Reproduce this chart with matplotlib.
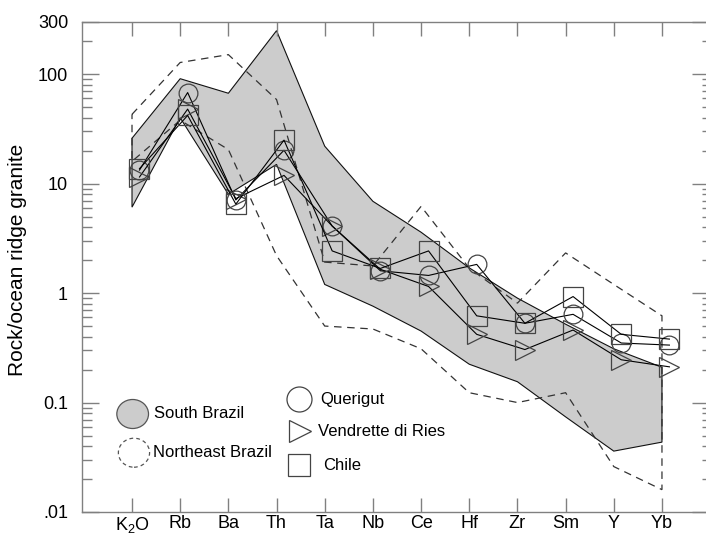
import numpy as np
import matplotlib
matplotlib.use("Agg")
import matplotlib.pyplot as plt
from matplotlib.patches import Ellipse
from matplotlib.ticker import LogLocator, NullFormatter, FixedLocator, FixedFormatter

plt.rcParams['font.family'] = ['Liberation Sans', 'DejaVu Sans']
plt.rcParams['mathtext.default'] = 'regular'

# ---------------- data ----------------
categories = ['K$_2$O', 'Rb', 'Ba', 'Th', 'Ta', 'Nb', 'Ce', 'Hf', 'Zr', 'Sm', 'Y', 'Yb']

south_brazil_upper = [26, 91, 67, 250, 22, 6.9, 3.6, 1.7, 0.9, 0.52, 0.31, 0.21]
south_brazil_lower = [6.1, 40, 8.0, 15, 1.2, 0.76, 0.45, 0.224, 0.155, 0.074, 0.036, 0.0435]

northeast_upper = [43, 128, 151, 58.7, 1.92, 1.77, 6.2, 1.69, 0.81, 2.33, 1.2, 0.62]
northeast_lower = [16, 38, 20.5, 2.2, 0.5, 0.47, 0.31, 0.123, 0.1, 0.123, 0.026, 0.016]

querigut  = [13.3, 68, 7.1, 20.2, 4.1, 1.6, 1.45, 1.83, 0.53, 0.64, 0.35, 0.335]
vendrette = [11.5, 48, 7.3, 11.9, 4.1, 1.65, 1.15, 0.42, 0.305, 0.46, 0.246, 0.212]
chile     = [13.7, 42, 6.5, 25, 2.43, 1.68, 2.43, 0.62, 0.53, 0.93, 0.42, 0.38]

ytick_vals = [0.01, 0.1, 1, 10, 100, 300]
ytick_labels = ['.01', '0.1', '1', '10', '100', '300']

# ---------------- figure ----------------
fig = plt.figure(figsize=(7.06, 5.36), dpi=100)
ax = fig.add_axes([82 / 706, 24 / 536, 624 / 706, 490 / 536])

x = np.arange(len(categories))
sym_x = x + 0.155

# South Brazil field
ax.fill(np.r_[x, x[::-1]], np.r_[south_brazil_upper, south_brazil_lower[::-1]],
        facecolor='#cccccc', edgecolor='#111111', lw=0.8, zorder=1)
# Northeast Brazil field
ax.fill(np.r_[x, x[::-1]], np.r_[northeast_upper, northeast_lower[::-1]],
        fill=False, edgecolor='#333333', lw=0.9, ls=(0, (6, 4.5)), zorder=2)

mec = '#444444'
ax.plot(sym_x, querigut, color='black', lw=0.8, marker='o', ms=13.5,
        mfc='none', mec=mec, mew=0.9, zorder=3)
ax.plot(sym_x, vendrette, color='black', lw=0.8, marker='>', ms=15,
        mfc='none', mec=mec, mew=0.9, zorder=3)
ax.plot(sym_x, chile, color='black', lw=0.8, marker='s', ms=15,
        mfc='none', mec=mec, mew=0.9, zorder=3)

ax.set_yscale('log')
ax.set_ylim(0.01, 300)
ax.set_xlim(-1.038, 11.914)

ax.yaxis.set_major_locator(FixedLocator(ytick_vals))
ax.yaxis.set_major_formatter(FixedFormatter(ytick_labels))
ax.yaxis.set_minor_locator(LogLocator(base=10, subs=np.arange(2, 10), numticks=20))
ax.yaxis.set_minor_formatter(NullFormatter())

ax.set_xticks(x)
ax.set_xticklabels(categories)

tick_col = '#808080'
ax.tick_params(axis='y', which='major', direction='in', length=12, width=1,
               color=tick_col, labelsize=13, pad=10, left=True, right=False)
ax.tick_params(axis='y', which='minor', direction='in', length=7, width=1,
               color=tick_col, left=True, right=False)
ax.tick_params(axis='x', which='major', direction='in', length=10, width=1,
               color=tick_col, labelsize=13, pad=2.5, top=True, bottom=True)
ax.tick_params(axis='x', which='minor', bottom=False, top=False)

for s in ['left', 'top', 'bottom']:
    ax.spines[s].set_color(tick_col)
    ax.spines[s].set_linewidth(1)
ax.spines['right'].set_visible(False)

# right-hand ticks (shorter)
ax2 = ax.twinx()
ax2.set_yscale('log')
ax2.set_ylim(0.01, 300)
ax2.yaxis.set_major_locator(FixedLocator(ytick_vals))
ax2.yaxis.set_minor_locator(LogLocator(base=10, subs=np.arange(2, 10), numticks=20))
ax2.yaxis.set_major_formatter(NullFormatter())
ax2.yaxis.set_minor_formatter(NullFormatter())
ax2.tick_params(axis='y', which='major', direction='in', length=10, width=1, color=tick_col)
ax2.tick_params(axis='y', which='minor', direction='in', length=3, width=1, color=tick_col)
for s in ax2.spines.values():
    s.set_visible(False)

fig.text(18 / 706, 1 - 260 / 536, 'Rock/ocean ridge granite', rotation=90,
         ha='center', va='center', fontsize=15)

# ---------------- legend (manual) ----------------
T = ax.transAxes
ax.add_patch(Ellipse((0.0812, 0.200), 0.0508, 0.0592, transform=T,
                     facecolor='#cccccc', edgecolor='#555555', lw=0.9, zorder=5))
ax.text(0.1154, 0.200, 'South Brazil', transform=T, ha='left', va='center', fontsize=12)
ax.add_patch(Ellipse((0.0833, 0.121), 0.0500, 0.0592, transform=T,
                     facecolor='none', edgecolor='#555555', lw=0.9, ls=(0, (3, 2.5)), zorder=5))
ax.text(0.1143, 0.1224, 'Northeast Brazil', transform=T, ha='left', va='center', fontsize=12)

ax.plot([0.3482], [0.2306], transform=T, marker='o', ms=18, mfc='none', mec=mec, mew=0.9,
        ls='none', zorder=5, clip_on=False)
ax.text(0.3825, 0.2306, 'Querigut', transform=T, ha='left', va='center', fontsize=12)
ax.plot([0.3494], [0.1653], transform=T, marker='>', ms=15.6, mfc='none', mec=mec, mew=0.9,
        ls='none', zorder=5, clip_on=False)
ax.text(0.3782, 0.1653, 'Vendrette di Ries', transform=T, ha='left', va='center', fontsize=12)
ax.plot([0.3478], [0.0969], transform=T, marker='s', ms=15.8, mfc='none', mec=mec, mew=0.9,
        ls='none', zorder=5, clip_on=False)
ax.text(0.3857, 0.0959, 'Chile', transform=T, ha='left', va='center', fontsize=12)

fig.savefig('out.png', dpi=100)
